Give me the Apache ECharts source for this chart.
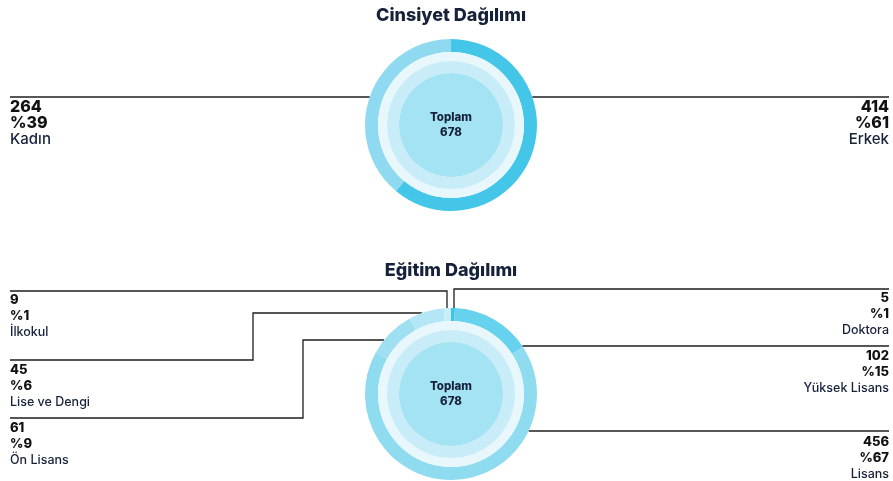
<!DOCTYPE html>
<html><head><meta charset="utf-8">
<script src="https://cdn.jsdelivr.net/npm/echarts@6/dist/echarts.min.js"></script>
<style>html,body{margin:0;padding:0;background:#fff}#c{width:893px;height:481px}</style>
</head><body><div id="c"></div>
<script>
// ---- data ----
const genderTitle = 'Cinsiyet Dağılımı';
const genderNames = ['Erkek', 'Kadın'];
const genderValues = [414, 264];
const genderPercents = [61, 39];

const eduTitle = 'Eğitim Dağılımı';
const eduNames = ['Doktora', 'Yüksek Lisans', 'Lisans', 'Ön Lisans', 'Lise ve Dengi', 'İlkokul'];
const eduValues = [5, 102, 456, 61, 45, 9];
const eduPercents = [1, 15, 67, 9, 6, 1];

const totalLabel = 'Toplam';

// ---- styles / geometry ----
const FONT = 'Inter';
const DARK = '#16213a';
const R = 86, R1 = 73, R2 = 64, R3 = 52;
const C1 = [451, 125], C2 = [451, 394];
const LEFT_X = 10, RIGHT_X = 889;
const genderColors = ['#43c6e7', '#8fdaf0'];
const eduColors = ['#3ec6e8', '#66d2ee', '#8fdbf0', '#9fdff2', '#b3e7f5', '#c8eef8'];

const genderRoutes = [
  { side: 'right', type: 'h', y: 97, dy: 1.5 },
  { side: 'left', type: 'h', y: 97, dy: 1.5 }
];
const eduRoutes = [
  { side: 'right', type: 'v', y: 289, x: 454, dy: 1.5 },
  { side: 'right', type: 'h', y: 346, dy: 2.5 },
  { side: 'right', type: 'h', y: 431, dy: 3 },
  { side: 'left', type: 'e', y: 418, x: 303, jy: 340, dy: 2 },
  { side: 'left', type: 'e', y: 360, x: 253, jy: 313, dy: 2 },
  { side: 'left', type: 'v', y: 291, x: 447, dy: 1 }
];

function circleX(c, y, side) {
  const dy = y - c[1];
  const dx = Math.sqrt(Math.max(0, R * R - dy * dy));
  return side === 'left' ? c[0] - dx : c[0] + dx;
}
function circleY(c, x) {
  const dx = x - c[0];
  return c[1] - Math.sqrt(Math.max(0, R * R - dx * dx));
}
function makeLayout(center, routes) {
  return function (params) {
    const r = routes[params.dataIndex];
    const edgeX = r.side === 'left' ? LEFT_X : RIGHT_X;
    let pts;
    if (r.type === 'h') pts = [[edgeX, r.y], [circleX(center, r.y, r.side), r.y]];
    else if (r.type === 'v') pts = [[edgeX, r.y], [r.x, r.y], [r.x, circleY(center, r.x)]];
    else pts = [[edgeX, r.y], [r.x, r.y], [r.x, r.jy], [circleX(center, r.jy, r.side), r.jy]];
    return { x: edgeX, y: r.y + r.dy, align: r.side, verticalAlign: 'top', labelLinePoints: pts };
  };
}

function richFor(big) {
  const fb = big ? 16 : 13, fn = big ? 15 : 12.5, lh = big ? 16.5 : 16;
  return {
    bl: { fontFamily: FONT, fontWeight: 800, fontSize: fb, lineHeight: lh, color: '#111', align: 'left' },
    nl: { fontFamily: FONT, fontWeight: 500, fontSize: fn, lineHeight: lh, color: DARK, align: 'left' },
    br: { fontFamily: FONT, fontWeight: 800, fontSize: fb, lineHeight: lh, color: '#111', align: 'right' },
    nr: { fontFamily: FONT, fontWeight: 500, fontSize: fn, lineHeight: lh, color: DARK, align: 'right' }
  };
}

function buildDonut(center, names, values, percents, colors, routes, big) {
  const total = values.reduce((a, b) => a + b, 0);
  const data = names.map((n, i) => ({ name: n, value: values[i], itemStyle: { color: colors[i] } }));
  const common = { type: 'pie', center: center, startAngle: 90, clockwise: true, silent: true,
    emphasis: { disabled: true }, animation: false };
  return [
    Object.assign({}, common, {
      radius: [R1, R], data: data, avoidLabelOverlap: false,
      label: {
        show: true, position: 'outside',
        formatter: function (p) {
          const s = routes[p.dataIndex].side === 'left' ? 'l' : 'r';
          return '{b' + s + '|' + values[p.dataIndex] + '}\n{b' + s + '|%' + percents[p.dataIndex] + '}\n{n' + s + '|' + names[p.dataIndex] + '}';
        },
        rich: richFor(big)
      },
      labelLine: { show: true, length: 0, length2: 0, smooth: false, lineStyle: { color: '#1e1e1e', width: 1.3 } },
      labelLayout: makeLayout(center, routes)
    }),
    Object.assign({}, common, { radius: [R2, R1], data: [{ value: total, itemStyle: { color: '#e7f7fc' } }], label: { show: false }, labelLine: { show: false } }),
    Object.assign({}, common, { radius: [R3, R2], data: [{ value: total, itemStyle: { color: '#c8edf8' } }], label: { show: false }, labelLine: { show: false } }),
    Object.assign({}, common, { radius: [0, R3], data: [{ name: totalLabel, value: total, itemStyle: { color: '#a3e3f4' } }],
      label: { show: true, position: 'center', formatter: '{t|' + totalLabel + '}\n{t|' + total + '}',
        rich: { t: { fontFamily: FONT, fontWeight: 800, fontSize: 11.5, lineHeight: 15, color: DARK } } },
      labelLine: { show: false } })
  ];
}

const chart = echarts.init(document.getElementById('c'), null, { renderer: 'canvas' });
chart.setOption({
  animation: false,
  backgroundColor: '#ffffff',
  title: [
    { text: genderTitle, left: 451, top: 7, textAlign: 'center', padding: 0,
      textStyle: { fontFamily: FONT, fontWeight: 800, fontSize: 18, color: DARK } },
    { text: eduTitle, left: 451, top: 262, textAlign: 'center', padding: 0,
      textStyle: { fontFamily: FONT, fontWeight: 800, fontSize: 18, color: DARK } }
  ],
  series: [].concat(
    buildDonut(C1, genderNames, genderValues, genderPercents, genderColors, genderRoutes, true),
    buildDonut(C2, eduNames, eduValues, eduPercents, eduColors, eduRoutes, false)
  )
});
</script>
</body></html>
